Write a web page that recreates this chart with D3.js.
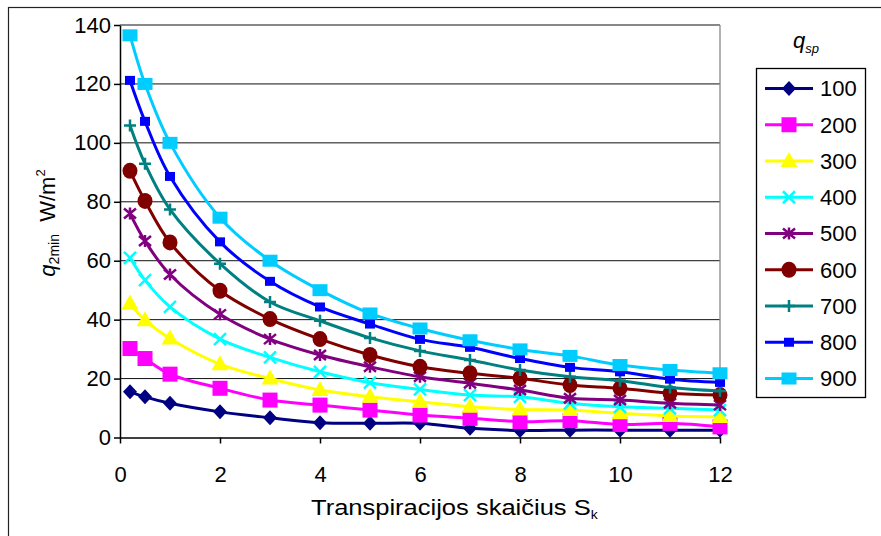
<!DOCTYPE html>
<html>
<head>
<meta charset="utf-8">
<script src="https://cdn.jsdelivr.net/npm/d3@7"></script>
<style>
  body { margin: 0; background: #fff; }
  svg { display: block; font-family: "Liberation Sans", Arial, sans-serif; }
</style>
</head>
<body>
<svg id="chart" width="881" height="536"></svg>
<script>
// transpiration number S_k (marker positions)
var sk = [0.2, 0.5, 1, 2, 3, 4, 5, 6, 7, 8, 9, 10, 11, 12];

// q_2min values per q_sp series
var q100 = [15.5, 13.8, 11.6, 8.7, 6.7, 5.0, 4.8, 4.8, 3.1, 2.4, 2.5, 2.5, 2.5, 2.5];
var q200 = [30.2, 26.8, 21.5, 16.7, 12.7, 11.0, 9.3, 7.6, 6.5, 5.4, 5.7, 4.4, 4.8, 3.6];
var q300 = [45.5, 39.8, 33.6, 24.9, 20.0, 16.1, 13.8, 12.1, 10.4, 9.5, 9.3, 8.2, 7.3, 7.0];
var q400 = [61.0, 53.4, 44.3, 33.4, 27.2, 22.3, 18.6, 16.3, 14.4, 13.8, 11.6, 10.4, 9.9, 9.3];
var q500 = [76.0, 66.7, 55.3, 41.8, 33.4, 28.0, 24.0, 20.6, 18.4, 16.1, 13.3, 12.7, 11.6, 11.0];
var q600 = [90.5, 80.3, 66.2, 49.8, 40.2, 33.4, 28.0, 24.0, 21.8, 20.1, 17.8, 16.7, 15.0, 14.4];
var q700 = [105.9, 92.9, 77.4, 59.0, 46.0, 39.6, 33.8, 29.4, 26.3, 22.9, 20.6, 19.3, 17.0, 15.8];
var q800 = [121.2, 107.3, 88.6, 66.4, 53.0, 44.3, 38.5, 33.3, 30.6, 26.8, 23.8, 22.3, 19.8, 18.7];
var q900 = [136.5, 120.0, 100.0, 74.6, 60.0, 50.0, 42.1, 37.0, 33.0, 29.9, 27.7, 24.6, 22.9, 21.8];

var seriesNames = ['100', '200', '300', '400', '500', '600', '700', '800', '900'];
var seriesValues = [q100, q200, q300, q400, q500, q600, q700, q800, q900];

var yTicks = [0, 20, 40, 60, 80, 100, 120, 140];
var xTicks = [0, 2, 4, 6, 8, 10, 12];

// look of each series: colour + marker type
var sty = {
    '100': { color: '#000080', mk: 'diamond' },
    '200': { color: '#ff00ff', mk: 'square' },
    '300': { color: '#ffff00', mk: 'triangle' },
    '400': { color: '#00ffff', mk: 'x' },
    '500': { color: '#800080', mk: 'star' },
    '600': { color: '#800000', mk: 'circle' },
    '700': { color: '#008080', mk: 'plus' },
    '800': { color: '#0000ff', mk: 'smallsq' },
    '900': { color: '#00ccff', mk: 'widesq' }
};

var svg = d3.select('#chart');
var pa = { left: 120, right: 720, top: 25, bottom: 437.5 };

var x = d3.scaleLinear().domain([0, 12]).range([pa.left, pa.right]);
var y = d3.scaleLinear().domain([0, 140]).range([pa.bottom, pa.top]);

// outer chart frame (cropped by the picture on right and bottom)
svg.append('rect')
    .attr('x', 8.5).attr('y', 7.5)
    .attr('width', 900).attr('height', 600)
    .attr('fill', 'none').attr('stroke', '#222').attr('stroke-width', 1.2);

// gridlines
svg.append('g').selectAll('line')
    .data(yTicks.filter(function(d) { return d > 0; }))
    .join('line')
    .attr('x1', pa.left).attr('x2', pa.right)
    .attr('y1', function(d) { return y(d); })
    .attr('y2', function(d) { return y(d); })
    .attr('stroke', '#111').attr('stroke-width', 1);

// right border of plot area
svg.append('line')
    .attr('x1', pa.right).attr('x2', pa.right)
    .attr('y1', pa.top).attr('y2', pa.bottom)
    .attr('stroke', '#888').attr('stroke-width', 1.3);

// axes
var yAxis = svg.append('g')
    .attr('transform', 'translate(' + pa.left + ',0)')
    .call(d3.axisLeft(y).tickValues(yTicks).tickSize(6).tickSizeOuter(0).tickPadding(3));
var xAxis = svg.append('g')
    .attr('transform', 'translate(0,' + pa.bottom + ')')
    .call(d3.axisBottom(x).tickValues(xTicks).tickSize(6).tickSizeOuter(0).tickPadding(23));

[yAxis, xAxis].forEach(function(ax) {
    ax.select('.domain').attr('stroke', '#000').attr('stroke-width', 1.5);
    ax.selectAll('.tick line').attr('stroke', '#000').attr('stroke-width', 1.5);
    ax.selectAll('.tick text')
        .attr('fill', '#000')
        .style('font-size', '22px')
        .style('font-family', '"Liberation Sans", Arial, sans-serif');
});

// marker drawing
function marker(sel, type, color) {
    if (type === 'diamond') {
        sel.append('path').attr('d', 'M0,-7.5L7,0L0,7.5L-7,0Z').attr('fill', color);
    } else if (type === 'square') {
        sel.append('rect').attr('x', -7.5).attr('y', -7.5).attr('width', 15).attr('height', 15).attr('fill', color);
    } else if (type === 'triangle') {
        sel.append('path').attr('d', 'M0,-9L8.5,6L-8.5,6Z').attr('fill', color);
    } else if (type === 'x') {
        sel.append('path').attr('d', 'M-6,-6L6,6M6,-6L-6,6').attr('stroke', color).attr('stroke-width', 2.5).attr('fill', 'none');
    } else if (type === 'star') {
        sel.append('path').attr('d', 'M-6,-5L6,5M6,-5L-6,5M0,-6L0,6').attr('stroke', color).attr('stroke-width', 2.5).attr('fill', 'none');
    } else if (type === 'circle') {
        sel.append('ellipse').attr('rx', 7.5).attr('ry', 8).attr('fill', color);
    } else if (type === 'plus') {
        sel.append('path').attr('d', 'M-6,0L6,0M0,-6L0,6').attr('stroke', color).attr('stroke-width', 2.5).attr('fill', 'none');
    } else if (type === 'smallsq') {
        sel.append('rect').attr('x', -5).attr('y', -4.5).attr('width', 10).attr('height', 9).attr('fill', color);
    } else if (type === 'widesq') {
        sel.append('rect').attr('x', -7.5).attr('y', -6).attr('width', 15).attr('height', 12).attr('fill', color);
    }
}

var line = d3.line()
    .x(function(d) { return x(d[0]); })
    .y(function(d) { return y(d[1]); })
    .curve(d3.curveCatmullRom.alpha(0.5));

seriesNames.forEach(function(name, i) {
    var pts = sk.map(function(s, j) { return [s, seriesValues[i][j]]; });
    var g = svg.append('g').attr('class', 'series s' + name);
    g.append('path')
        .datum(pts)
        .attr('d', line)
        .attr('fill', 'none')
        .attr('stroke', sty[name].color)
        .attr('stroke-width', 3);
    g.selectAll('g.mk')
        .data(pts)
        .join('g')
        .attr('class', 'mk')
        .attr('transform', function(d) { return 'translate(' + x(d[0]) + ',' + y(d[1]) + ')'; })
        .each(function() { marker(d3.select(this), sty[name].mk, sty[name].color); });
});

// axis titles
var ytl = svg.append('text')
    .attr('transform', 'translate(55,223) rotate(-90)')
    .attr('text-anchor', 'middle')
    .style('font-size', '22px');
ytl.append('tspan').style('font-style', 'italic').text('q');
ytl.append('tspan').attr('dy', 4).style('font-size', '14px').text('2min');
ytl.append('tspan').attr('dy', -4).text('\u00a0 W/m');
ytl.append('tspan').attr('dy', -10).style('font-size', '13px').text('2');

// the original title is set wide, so stretch it a little
var xtl = svg.append('text')
    .attr('transform', 'translate(311,515) scale(1.16,1)')
    .style('font-size', '22px');
xtl.append('tspan').text('Transpiracijos skaičius S');
xtl.append('tspan').attr('dy', 4).style('font-size', '12px').text('k');

// legend
var lg = { x: 756.5, y: 68.5, w: 109, h: 329, row0: 88.5, step: 36.25 };
var ttl = svg.append('text').attr('x', 793).attr('y', 48).style('font-size', '22px').style('font-style', 'italic');
ttl.append('tspan').text('q');
ttl.append('tspan').attr('dy', 5).style('font-size', '13px').text('sp');

svg.append('rect')
    .attr('x', lg.x).attr('y', lg.y).attr('width', lg.w).attr('height', lg.h)
    .attr('fill', '#fff').attr('stroke', '#000').attr('stroke-width', 1.3);

var items = svg.append('g').selectAll('g')
    .data(seriesNames)
    .join('g')
    .attr('transform', function(d, i) { return 'translate(0,' + (lg.row0 + i * lg.step) + ')'; });
items.append('line')
    .attr('x1', 765).attr('x2', 813)
    .attr('stroke', function(d) { return sty[d].color; })
    .attr('stroke-width', 3);
items.each(function(d) {
    marker(d3.select(this).append('g').attr('transform', 'translate(789,0)'), sty[d].mk, sty[d].color);
});
items.append('text')
    .attr('x', 820).attr('dy', '0.36em')
    .style('font-size', '22px')
    .text(function(d) { return d; });
</script>
</body>
</html>
